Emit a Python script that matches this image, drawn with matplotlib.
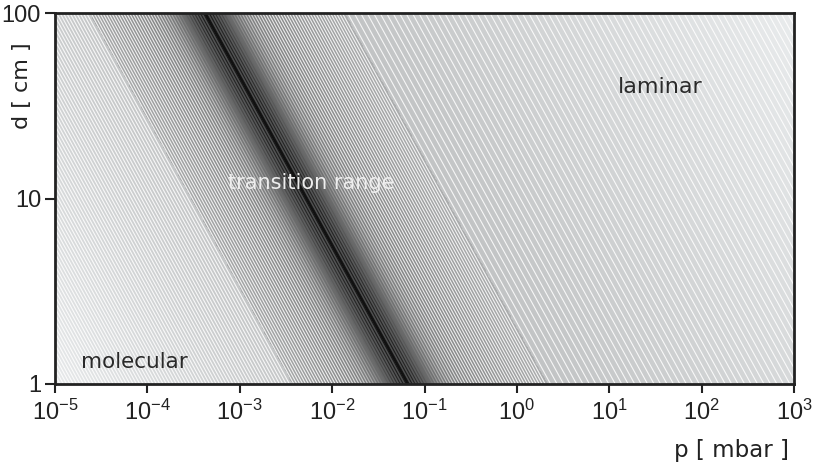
import numpy as np
import matplotlib
matplotlib.use("Agg")
from matplotlib import pyplot as plt
from matplotlib.collections import LineCollection

# axis ranges
p_range = [1e-5, 1e3]
d_range = [1, 100]
x_ticks = [1e-5, 1e-4, 1e-3, 1e-2, 1e-1, 1e0, 1e1, 1e2, 1e3]
x_exps = [-5, -4, -3, -2, -1, 0, 1, 2, 3]
y_ticks = [1, 10, 100]
y_labels = ["1", "10", "100"]

# flow regime boundaries, given as log10(p) where the line meets d = 1 cm
# (lines run with slope: log p shifts 2.197 decades over the 2 decades of d)
slope = 2.197 / 2.0
s_molecular = -2.43
s_center = -1.18
s_laminar = 0.33

# shading of the background (0 black, 1 white) along s
shade_s = [-5.0, s_molecular, s_molecular + 0.005, -1.6, s_center, -0.75, s_laminar, s_laminar + 0.005, 5.3]
shade_g = [0.92, 0.78, 0.66, 0.50, 0.30, 0.50, 0.68, 0.77, 0.93]

region_names = ["molecular", "transition range", "laminar"]

plt.rcParams['font.family'] = ['DejaVu Sans']
plt.rcParams['mathtext.fontset'] = 'custom'
plt.rcParams['mathtext.rm'] = 'Liberation Sans'
plt.rcParams['mathtext.it'] = 'Liberation Sans:italic'
plt.rcParams['mathtext.bf'] = 'Liberation Sans:bold'

fig = plt.figure(figsize=(8.13, 4.66), dpi=100)
ax = fig.add_axes([55 / 813, 1 - 384 / 466, (794 - 55) / 813, (384 - 13) / 466])
ax.set_xscale('log')
ax.set_yscale('log')

# background gradient on a log grid
lp = np.linspace(-5, 3, 800)
ld = np.linspace(0, 2, 300)
LP, LD = np.meshgrid(lp, ld)
S = LP + LD * slope
G = np.interp(S, shade_s, shade_g)
rgb = np.dstack([G * 0.985, G * 0.995, G])
ax.pcolormesh(10 ** lp, 10 ** ld, rgb, shading='auto', rasterized=True, zorder=0)

# hatch lines of constant p*d
segs = []
cols = []
for lo, hi, step in [(-5.0, s_molecular, 0.036), (s_molecular, s_laminar, 0.032), (s_laminar, 5.3, 0.07)]:
    for s in np.arange(lo + step / 2, hi, step):
        segs.append([(10 ** (s - 2 * slope), 100), (10 ** s, 1)])
        g = np.interp(s, shade_s, shade_g)
        w = np.exp(-((s - s_center) / 0.35) ** 2)
        v = (1 - w) * (g + (1 - g) * 0.85) + w * (g * 0.3)
        cols.append((v, v, v))
ax.add_collection(LineCollection(segs, colors=cols, linewidths=0.8, zorder=1))

# dark centre line of the transition range
ax.plot([10 ** (s_center - 2 * slope), 10 ** s_center], [100, 1], color='#111111', lw=1.6, zorder=2)

ax.set_xlim(p_range)
ax.set_ylim(d_range)

ax.text(7.2e-5, 1.31, region_names[0], fontsize=15.5, color='#2a2a2a', ha='center', va='center', zorder=3)
ax.text(6.0e-3, 12.1, region_names[1], fontsize=15, color='#eeeeee', ha='center', va='center', zorder=3)
ax.text(36, 40, region_names[2], fontsize=16, color='#2a2a2a', ha='center', va='center', zorder=3)

ax.set_xticks(x_ticks)
ax.set_xticklabels([r"$10^{%d}$" % e for e in x_exps])
ax.set_yticks(y_ticks)
ax.set_yticklabels(y_labels)
ax.minorticks_off()
ax.tick_params(axis='x', direction='out', length=6.5, width=1.5, pad=5, labelsize=17, colors='#222222')
ax.tick_params(axis='y', direction='out', length=7, width=1.5, pad=3, labelsize=17, colors='#222222')
for lab in ax.get_yticklabels():
    lab.set_fontfamily('Liberation Sans')

for sp in ax.spines.values():
    sp.set_linewidth(2)
    sp.set_color('#222222')

fig.text(22 / 813, 1 - 86 / 466, "d [ cm ]", rotation=90, fontsize=16, color='#222222', ha='center', va='center')
fig.text(731 / 813, 1 - 450 / 466, "p [ mbar ]", fontsize=16.5, color='#222222', ha='center', va='center')

fig.savefig("out.png", dpi=100)
